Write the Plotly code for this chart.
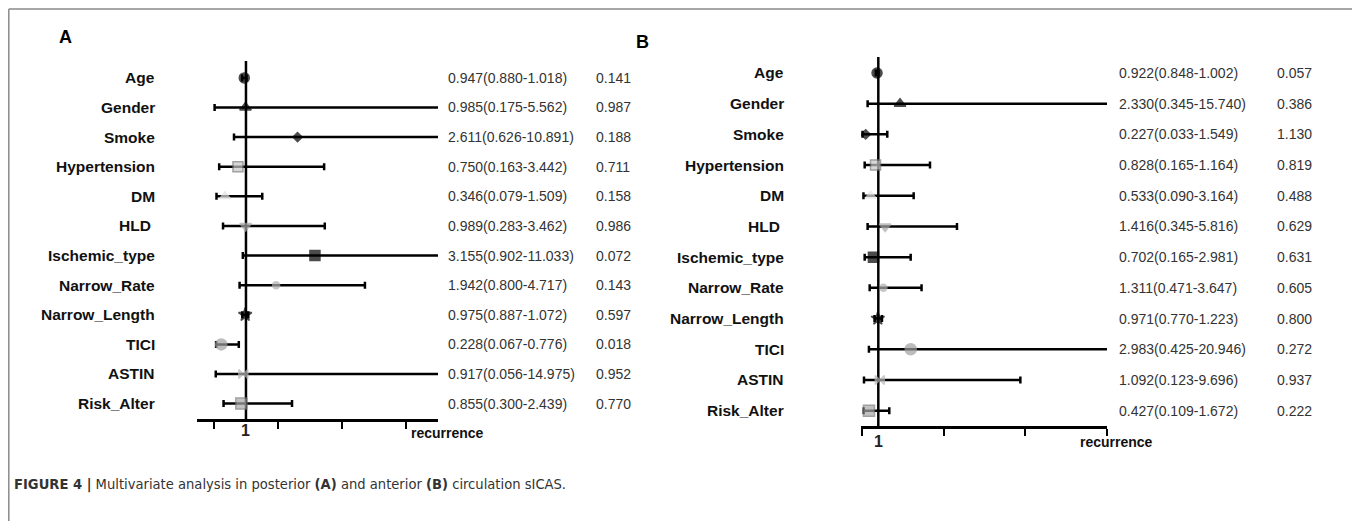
import plotly.graph_objects as go

# page has an 8px body margin; the figure fills the remaining window
OFF = 8
W, H = 1360 - OFF, 521 - OFF

VARS = ["Age", "Gender", "Smoke", "Hypertension", "DM", "HLD\u00a0", "Ischemic_type",
        "Narrow_Rate", "Narrow_Length", "TICI", "ASTIN", "Risk_Alter"]

# Panel A (posterior): plotted odds ratio and interval
A_OR = [0.947, 0.985, 2.611, 0.750, 0.346, 0.989, 3.155, 1.942, 0.975, 0.228, 0.917, 0.855]
A_LO = [0.880, 0.02, 0.626, 0.163, 0.079, 0.283, 0.902, 0.800, 0.887, 0.067, 0.056, 0.300]
A_HI = [1.018, 8.0, 10.891, 3.442, 1.509, 3.462, 11.033, 4.717, 1.072, 0.776, 14.975, 2.439]
A_CI = ["0.947(0.880-1.018)", "0.985(0.175-5.562)", "2.611(0.626-10.891)", "0.750(0.163-3.442)",
        "0.346(0.079-1.509)", "0.989(0.283-3.462)", "3.155(0.902-11.033)", "1.942(0.800-4.717)",
        "0.975(0.887-1.072)", "0.228(0.067-0.776)", "0.917(0.056-14.975)", "0.855(0.300-2.439)"]
A_P = ["0.141", "0.987", "0.188", "0.711", "0.158", "0.986", "0.072", "0.143", "0.597",
       "0.018", "0.952", "0.770"]
A_TICKS = [0, 2, 4, 6]

# Panel B (anterior)
B_OR = [0.922, 2.330, 0.227, 0.828, 0.533, 1.416, 0.702, 1.311, 0.971, 2.983, 1.092, 0.427]
B_LO = [0.848, 0.345, 0.033, 0.165, 0.090, 0.345, 0.165, 0.471, 0.770, 0.425, 0.123, 0.109]
B_HI = [1.002, 15.740, 1.549, 4.164, 3.164, 5.816, 2.981, 3.647, 1.223, 20.946, 9.696, 1.672]
B_CI = ["0.922(0.848-1.002)", "2.330(0.345-15.740)", "0.227(0.033-1.549)", "0.828(0.165-1.164)",
        "0.533(0.090-3.164)", "1.416(0.345-5.816)", "0.702(0.165-2.981)", "1.311(0.471-3.647)",
        "0.971(0.770-1.223)", "2.983(0.425-20.946)", "1.092(0.123-9.696)", "0.427(0.109-1.672)"]
B_P = ["0.057", "0.386", "1.130", "0.819", "0.488", "0.629", "0.631", "0.605", "0.800",
       "0.272", "0.937", "0.222"]
B_TICKS = [0, 5, 10, 15]

CAPTION = ("<b>FIGURE 4 |</b> Multivariate analysis in posterior <b>(A)</b> and anterior "
           "<b>(B)</b> circulation sICAS.")

# marker styles per row
SYMBOLS = ["circle", "triangle-up", "diamond", "square", "triangle-up", "triangle-down",
           "square", "circle", "star", "circle", "bowtie", "square"]
FILLS = ["#000", "#000", "#000", "#c8c8c8", "#e2e2e2", "#a8a8a8",
         "#000", "#b0b0b0", "#000", "#a0a0a0", "#b8b8b8", "#a8a8a8"]
EDGES = ["#000", "#000", "#000", "#7a7a7a", "#e2e2e2", "#a8a8a8",
         "#000", "#b0b0b0", "#000", "#a0a0a0", "#b8b8b8", "#7a7a7a"]
SIZES = [10, 10, 7, 10, 9, 10, 10, 7, 10, 11, 9, 11]

FONT = "Liberation Sans, Arial, sans-serif"
rows = list(range(len(VARS)))


def px(x):  # page pixel -> paper x
    return (x - OFF) / W


def py(y):  # page pixel -> paper y
    return 1 - (y - OFF) / H


fig = go.Figure()

panels = [
    dict(OR=A_OR, LO=A_LO, HI=A_HI, CI=A_CI, P=A_P, ticks=A_TICKS, xa="x", ya="y",
         xdom=[px(197), px(438)], xr=[-0.53, 7.0], ydom=[py(419), py(61)], yr=[11.52, -0.57],
         lab_x=157, ci_x=446, p_x=594, one_y=430, rec_x=409, rec_y=433,
         letter="A", letter_xy=(66, 37)),
    dict(OR=B_OR, LO=B_LO, HI=B_HI, CI=B_CI, P=B_P, ticks=B_TICKS, xa="x2", ya="y2",
         xdom=[px(861), px(1107)], xr=[-0.06, 15.0], ydom=[py(426), py(57)], yr=[11.5, -0.52],
         lab_x=786, ci_x=1117, p_x=1275, one_y=441, rec_x=1078, rec_y=442,
         letter="B", letter_xy=(642, 42)),
]

annotations = []
shapes = []
for k, p in enumerate(panels):
    plus = [h - o for h, o in zip(p["HI"], p["OR"])]
    minus = [o - l for o, l in zip(p["OR"], p["LO"])]
    fig.add_trace(go.Scatter(
        x=p["OR"], y=rows, mode="markers", xaxis=p["xa"], yaxis=p["ya"],
        marker=dict(symbol=SYMBOLS, color=FILLS, size=SIZES,
                    line=dict(color=EDGES, width=1.5)),
        error_x=dict(type="data", symmetric=False, array=plus, arrayminus=minus,
                     color="#000", thickness=2.5, width=3.5),
        showlegend=False, hoverinfo="skip", cliponaxis=True,
    ))
    xn = "xaxis" if k == 0 else "xaxis2"
    yn = "yaxis" if k == 0 else "yaxis2"
    fig.layout[xn] = dict(domain=p["xdom"], range=p["xr"], anchor=p["ya"],
                          showline=True, linecolor="#000", linewidth=2.5,
                          ticks="outside", tickvals=p["ticks"], ticklen=7, tickwidth=2,
                          tickcolor="#000", showticklabels=False, showgrid=False,
                          zeroline=False, fixedrange=True)
    fig.layout[yn] = dict(domain=p["ydom"], range=p["yr"], anchor=p["xa"],
                          showline=False, showticklabels=False, showgrid=False,
                          zeroline=False, ticks="", fixedrange=True)
    # reference line at 1
    shapes.append(dict(type="line", xref=p["xa"], yref=f"{p['ya']} domain",
                       x0=1, x1=1, y0=0, y1=1, layer="below",
                       line=dict(color="#000", width=2.5)))
    for i, name in enumerate(VARS):
        annotations.append(dict(text=name, x=px(p["lab_x"]), xref="paper", y=i, yref=p["ya"],
                                xanchor="right", yanchor="middle", showarrow=False,
                                font=dict(family=FONT, size=15.5, color="#111", weight="bold")))
        annotations.append(dict(text=p["CI"][i], x=px(p["ci_x"]), xref="paper", y=i,
                                yref=p["ya"], xanchor="left", yanchor="middle",
                                showarrow=False, font=dict(family=FONT, size=14, color="#333")))
        annotations.append(dict(text=p["P"][i], x=px(p["p_x"]), xref="paper", y=i,
                                yref=p["ya"], xanchor="left", yanchor="middle",
                                showarrow=False, font=dict(family=FONT, size=14, color="#333")))
    annotations.append(dict(text="1", x=1, xref=p["xa"], y=py(p["one_y"]), yref="paper",
                            xanchor="center", yanchor="middle", showarrow=False,
                            font=dict(family=FONT, size=16, color="#222", weight="bold")))
    annotations.append(dict(text="recurrence", x=px(p["rec_x"]), xref="paper",
                            y=py(p["rec_y"]), yref="paper", xanchor="left", yanchor="middle",
                            showarrow=False,
                            font=dict(family=FONT, size=14, color="#111", weight="bold")))
    lx, ly = p["letter_xy"]
    annotations.append(dict(text=p["letter"], x=px(lx), xref="paper", y=py(ly), yref="paper",
                            xanchor="center", yanchor="middle", showarrow=False,
                            font=dict(family=FONT, size=18, color="#000", weight="bold")))

annotations.append(dict(text=CAPTION, x=px(12), xref="paper", y=py(484), yref="paper",
                        xanchor="left", yanchor="middle", showarrow=False,
                        font=dict(family="Liberation Sans Narrow, DejaVu Sans Condensed, sans-serif",
                                  size=14.6, color="#333")))

# frame (left, top, right)
for (x0, y0, x1, y1) in [(8.8, 9, 8.8, 540), (8.8, 9, 1354, 9), (1354, 9, 1354, 540)]:
    shapes.append(dict(type="line", xref="paper", yref="paper",
                       x0=px(x0), y0=py(y0), x1=px(x1), y1=py(y1),
                       line=dict(color="#8a8a8a", width=1.5)))

fig.update_layout(width=W, height=H, margin=dict(l=0, r=0, t=0, b=0),
                  paper_bgcolor="#fff", plot_bgcolor="rgba(0,0,0,0)",
                  annotations=annotations, shapes=shapes, showlegend=False)

fig.write_html("out.html")
